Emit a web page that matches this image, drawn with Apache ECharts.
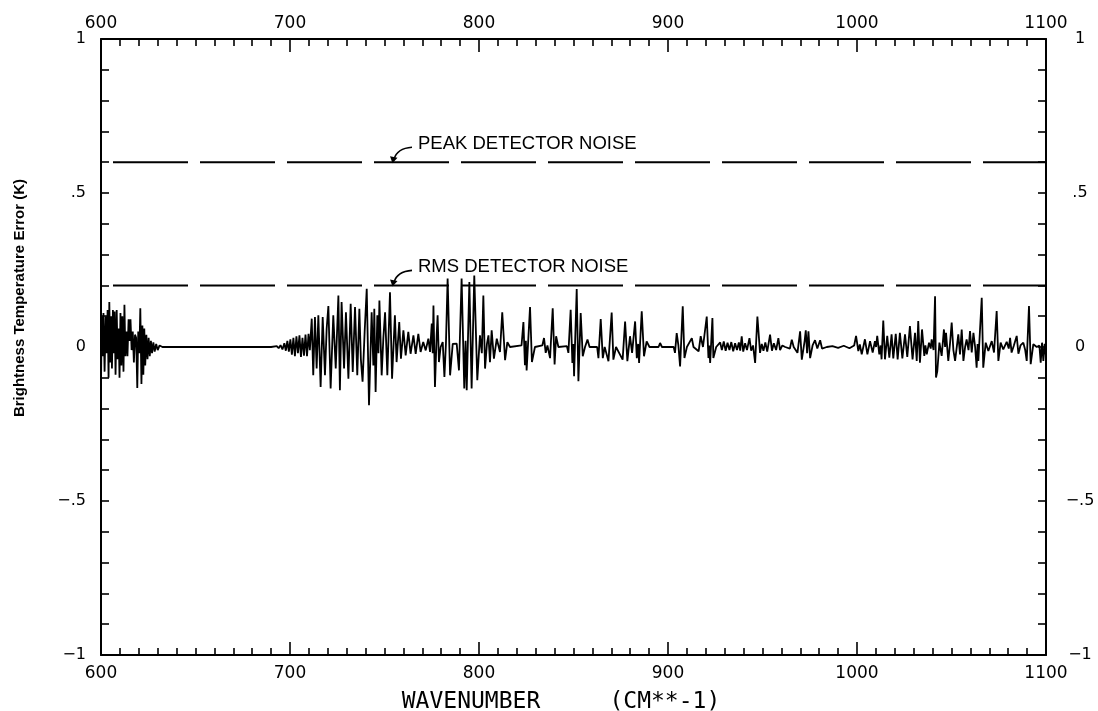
<!DOCTYPE html>
<html>
<head>
<meta charset="utf-8">
<script src="https://cdn.jsdelivr.net/npm/echarts@6/dist/echarts.min.js"></script>
<style>
html,body{margin:0;padding:0;background:#fff;}
#chart{width:1098px;height:711px;}
</style>
</head>
<body>
<div id="chart"></div>
<script>
// ---- data (wavenumber cm^-1, brightness temperature error K) ----
const xTicks = [600, 700, 800, 900, 1000, 1100];
const yTickLabels = {'1': '1', '0.5': '.5', '0': '0', '-0.5': '\u2212.5', '-1': '\u22121'};
const peakNoise = 0.6;
const rmsNoise = 0.2;

const seg600 = [[600.0,-0.12],[600.4,0.10],[600.9,-0.03],[601.3,0.11],[601.9,-0.08],[602.5,0.10],[603.0,-0.02],[603.5,0.12],[604.0,-0.10],[604.4,0.146],[604.9,-0.05],[605.4,0.10],[605.8,-0.07],[606.3,0.12],[606.8,-0.02],[607.2,0.115],[607.7,-0.09],[608.3,0.12],[608.8,-0.04],[609.3,0.06],[609.8,-0.10],[610.3,0.11],[610.8,-0.06],[611.3,0.10],[611.9,-0.08],[612.4,0.137],[612.9,-0.03],[613.5,0.05],[614.0,-0.03],[614.6,0.09],[615.1,0.02],[615.6,0.09],[616.2,-0.01],[616.8,0.05],[617.4,-0.05],[618.0,0.04],[618.6,0.03],[619.2,-0.133],[619.7,0.05],[620.3,-0.02],[620.8,0.126],[621.4,-0.12],[621.9,0.07],[622.4,-0.09],[622.9,0.06],[623.4,-0.06],[624.0,0.04],[624.6,-0.04],[625.2,0.03],[625.8,-0.03],[626.4,0.02],[627.0,-0.02],[627.7,0.015],[628.4,-0.015],[629.2,0.01],[630.0,-0.01],[631.0,0.005],[632.5,0],[650,0],[670,0]];

const seg700 = [[690,0],[693,0.003],[694,-0.004],[695,0.006],[696,-0.008],[697,0.012],[697.8,-0.012],[698.6,0.02],[699.4,-0.015],[700.2,0.025],[701.0,-0.025],[701.8,0.03],[702.6,-0.03],[703.4,0.035],[704.2,-0.02],[705.0,0.038],[705.8,-0.032],[706.6,0.03],[707.4,-0.028],[708.2,0.04],[709.0,-0.03],[709.8,0.043],[710.5,-0.01],[711.5,0.092],[712.3,-0.092],[713.2,0.097],[714.1,-0.07],[715.0,0.103],[716.2,-0.13],[717.3,0.097],[718.5,-0.092],[719.4,0.06],[720.3,0.133],[721.5,-0.135],[722.9,0.103],[724.2,-0.07],[725.6,0.167],[726.4,-0.14],[727.3,0.146],[728.6,-0.07],[729.6,0.113],[730.9,-0.103],[732.1,0.14],[733.2,-0.081],[734.4,0.13],[735.6,-0.092],[736.7,0.124],[737.5,-0.04],[738.4,-0.113],[739.5,0.05],[740.6,0.189],[741.8,-0.189],[743.2,0.113],[744.1,-0.06],[744.6,0.124],[745.3,-0.146],[746.2,0.103],[746.8,-0.02],[747.3,0.151],[748.5,-0.092],[749.4,0.03],[750.3,0.113],[751.5,-0.092],[752.9,0.178],[754.0,-0.103],[755.5,0.103],[756.4,-0.049],[757.8,0.081],[758.7,-0.038],[760.0,0.054],[761.2,-0.027],[762.6,0.049],[763.8,-0.022],[765.3,0.038],[766.5,-0.022],[767.9,0.043],[769.1,-0.016],[770.5,0.016],[771.8,-0.011],[773.2,0.027],[774.1,-0.016],[775.0,0.076],[775.5,-0.02],[775.9,0.135],[776.7,-0.13],[777.6,0.038],[778.1,0.103],[778.8,-0.049],[779.7,0],[780.8,0.016],[781.7,-0.097],[782.5,0.01],[783.4,0.222],[784.7,-0.092],[786.1,0.01],[788.2,0.011],[789.4,-0.076],[790.8,0.222],[792.2,-0.135],[792.9,0.02],[793.5,-0.14],[794.9,0.211],[796.1,-0.135],[797.5,0.232],[799.1,-0.108],[800.5,0.038],[801.5,-0.02],[802.3,0.167],[803.2,-0.07],[804.2,0.01],[805.0,0.038],[805.8,-0.049],[806.7,0.054],[807.9,-0.038],[809.4,0.027],[811.1,-0.016],[812.3,0.113],[813.8,-0.043],[815.0,0.016],[816.4,0],[822.5,0.005],[823.5,0.081],[824.3,-0.059],[824.8,0.02],[825.2,-0.076],[827.0,0.13],[828.0,-0.049],[829.6,0],[833.5,0.005]];

const seg850 = [[834.4,0.029],[835.3,-0.019],[836.2,0.005],[837.6,-0.036],[839.0,0.126],[840.0,-0.057],[840.8,0.035],[842.0,0],[846.5,0.003],[847.3,-0.019],[848.5,0.121],[849.4,-0.052],[849.9,0.01],[850.3,-0.095],[851.7,0.188],[852.6,-0.111],[853.8,0.11],[854.9,-0.03],[856.1,0],[857.4,0.024],[858.5,0],[862.5,0],[863.2,-0.036],[864.4,0.091],[865.5,-0.036],[866.5,0],[868.5,-0.046],[870.2,0.112],[871.1,-0.041],[872.5,0],[876.0,-0.041],[877.3,0.083],[878.5,-0.046],[879.9,0.035],[881.0,-0.019],[882.6,0.083],[883.5,-0.036],[884.2,0.01],[884.7,-0.052],[886.1,0.116],[887.3,-0.03],[888.7,0.018],[890.2,0],[895.0,0],[895.8,0.013],[896.8,0],[903.0,0],[903.7,-0.019],[904.6,0.045],[905.5,0.005],[906.4,-0.063],[907.8,0.132],[908.7,-0.036],[910.0,0],[912.6,0.029],[913.5,0],[916.2,-0.014],[917.3,0.035],[918.5,0],[920.5,0.099],[921.4,-0.036],[921.8,0.005],[922.3,-0.052],[923.5,0.094],[924.0,-0.036],[925.5,0]];

const seg950 = [[927.6,0.015],[928.5,-0.01],[929.5,0.018],[930.5,-0.012],[931.5,0.014],[932.5,-0.01],[933.5,0.016],[934.5,-0.014],[935.5,0.012],[936.5,-0.01],[937.5,0.015],[938.2,-0.012],[939.0,0.035],[939.8,-0.015],[940.8,0.012],[941.8,-0.01],[943.1,0.029],[944.0,-0.012],[945.0,0.005],[946.1,-0.052],[947.3,0.099],[948.7,-0.019],[949.6,0.01],[950.5,-0.012],[951.5,0.015],[952.5,-0.015],[954.0,0.04],[955.0,-0.012],[956.0,0.012],[957.2,-0.01],[958.4,0.029],[959.3,-0.01],[960.5,0.005],[962.0,0],[964.5,-0.005],[965.5,0.024],[966.5,0],[968.5,-0.019],[969.9,0.051],[970.8,-0.041],[971.7,-0.046],[972.3,0.02],[972.9,0.054],[973.6,-0.02],[974.3,0.051],[975.2,-0.036],[976.5,0.005],[977.8,0.022],[979.0,-0.005],[980.5,0.022],[981.5,-0.005],[984.0,0]];

const seg1050 = [[987,0.003],[990,-0.003],[993,0.004],[996,-0.004],[998.5,0.005],[999.5,0.036],[1000.7,-0.013],[1001.5,0.008],[1002.5,-0.024],[1004.2,0.025],[1005.5,-0.024],[1006.9,0.019],[1008.3,-0.018],[1009.5,0.019],[1010.1,0.0],[1010.7,0.036],[1011.8,-0.024],[1012.5,0.005],[1013.0,-0.04],[1013.9,0.086],[1014.8,-0.04],[1016.0,0.036],[1017.1,-0.035],[1018.3,0.041],[1019.2,-0.037],[1020.5,0.043],[1021.5,-0.04],[1022.7,0.046],[1024.0,-0.037],[1025.4,0.041],[1026.6,-0.032],[1028.0,0.068],[1029.4,-0.04],[1030.7,0.046],[1031.6,-0.045],[1032.4,0.084],[1033.3,-0.051],[1034.4,0.057],[1035.6,-0.029],[1036.2,0.005],[1036.9,-0.024],[1038.1,0.014],[1039.0,-0.005],[1039.5,0.025],[1040.5,-0.01],[1041.3,0.165],[1041.8,-0.099],[1042.5,-0.078],[1043.6,0.014],[1044.8,-0.029],[1046.0,0.057],[1046.6,0.0],[1047.1,0.046],[1048.3,-0.045],[1049.2,0.01],[1050.1,0.079],[1051.0,-0.01],[1051.9,-0.045],[1053.6,0.041],[1054.5,-0.024],[1055.4,0.057],[1056.3,-0.045],[1057.2,0.0],[1058.0,0.025],[1059.0,-0.01],[1059.8,0.052],[1060.7,-0.018],[1061.6,0.046],[1062.5,0.0],[1063.3,-0.067],[1063.8,0.01],[1064.2,-0.045],[1066.0,0.16],[1066.8,-0.067],[1068.1,0.014],[1069.5,-0.013],[1070.5,0.005],[1071.3,0.019],[1072.5,-0.018],[1073.9,0.117],[1074.8,-0.045],[1076.0,0.014],[1077.4,-0.008],[1079.2,0.017],[1080.3,-0.005],[1081.0,0.03],[1081.8,-0.018],[1083.0,0.005],[1084.5,0.036],[1085.4,-0.022],[1086.5,0.005],[1088.0,0.014],[1089.0,-0.01],[1089.8,-0.045],[1091.0,0.133],[1091.9,-0.056],[1093.3,0.009],[1095.1,0],[1096.5,0.005],[1097.2,-0.051],[1097.9,0.014],[1098.6,-0.045],[1099.3,0.01],[1100,-0.03]];

const noiseData = [].concat(seg600, seg700, seg850, seg950, seg1050);

const chart = echarts.init(document.getElementById('chart'), null, {renderer: 'canvas'});

const black = '#000';
function xAx(pos) {
  return {
    type: 'value', position: pos, min: xTicks[0], max: xTicks[xTicks.length - 1], interval: 100,
    axisLine: {onZero: false, lineStyle: {color: black, width: 2}},
    axisTick: {inside: true, length: 13, lineStyle: {color: black, width: 1.6}},
    minorTick: {show: true, splitNumber: 10, length: 7, lineStyle: {color: black, width: 1.6}},
    splitLine: {show: false}, minorSplitLine: {show: false},
    axisLabel: {color: black, fontFamily: 'DejaVu Sans', fontSize: 17, margin: pos === 'top' ? 7 : 10,
      showMinLabel: true, showMaxLabel: true, formatter: v => String(v)}
  };
}
function yAx(pos) {
  const left = pos === 'left';
  return {
    type: 'value', position: pos, min: -1, max: 1, interval: 0.5,
    axisLine: {onZero: false, lineStyle: {color: black, width: 2}},
    axisTick: {inside: true, length: 8, lineStyle: {color: black, width: 1.6}},
    minorTick: {show: true, splitNumber: 5, length: 8, lineStyle: {color: black, width: 1.6}},
    splitLine: {show: false}, minorSplitLine: {show: false},
    axisLabel: {color: black, fontFamily: 'DejaVu Sans', fontSize: 16,
      margin: left ? 15 : 34, align: left ? 'right' : 'center',
      formatter: v => yTickLabels[String(Math.round(v * 10) / 10)] || ''}
  };
}

const option = {
  animation: false,
  backgroundColor: '#fff',
  grid: {left: 101, right: 52, top: 39, bottom: 56, containLabel: false},
  xAxis: [xAx('bottom'), xAx('top')],
  yAxis: [yAx('left'), yAx('right')],
  series: [
    {type: 'line', name: 'error', data: noiseData, xAxisIndex: 0, yAxisIndex: 0,
      showSymbol: false, symbol: 'none', clip: true,
      lineStyle: {color: black, width: 1.8}},
    {type: 'line', name: 'peak', data: [[xTicks[0], peakNoise], [xTicks[xTicks.length - 1], peakNoise]],
      showSymbol: false, symbol: 'none',
      lineStyle: {color: black, width: 2, type: [75, 12], dashOffset: 75}},
    {type: 'line', name: 'rms', data: [[xTicks[0], rmsNoise], [xTicks[xTicks.length - 1], rmsNoise]],
      showSymbol: false, symbol: 'none',
      lineStyle: {color: black, width: 2, type: [75, 12], dashOffset: 75}}
  ]
};
chart.setOption(option);

function arrowGroup(tip, label) {
  const [tx, ty] = tip;
  return [
    {type: 'bezierCurve',
      shape: {x1: tx + 19, y1: ty - 15, cpx1: tx + 4, cpy1: ty - 14, x2: tx + 1, y2: ty - 3},
      style: {stroke: black, lineWidth: 1.6, fill: null}},
    {type: 'polygon', shape: {points: [[tx - 0.5, ty + 1], [tx - 3, ty - 6], [tx + 4.5, ty - 4.5]]},
      style: {fill: black}},
    {type: 'text', x: tx + 25, y: ty - 18,
      style: {text: label, fill: black, font: '18.5px "Liberation Sans", Arial, sans-serif',
        textAlign: 'left', textVerticalAlign: 'middle'}}
  ];
}
const arrowX = 754.5;
const pTip = chart.convertToPixel({xAxisIndex: 0, yAxisIndex: 0}, [arrowX, peakNoise]);
const rTip = chart.convertToPixel({xAxisIndex: 0, yAxisIndex: 0}, [arrowX, rmsNoise]);

chart.setOption({
  graphic: [].concat(
    arrowGroup(pTip, 'PEAK DETECTOR NOISE'),
    arrowGroup(rTip, 'RMS DETECTOR NOISE'),
    [
      {type: 'text', x: 20, y: 298, rotation: Math.PI / 2,
        style: {text: 'Brightness Temperature Error (K)', fill: black,
          font: 'bold 15px "Liberation Sans", Arial, sans-serif',
          textAlign: 'center', textVerticalAlign: 'middle'}},
      {type: 'text', x: 561, y: 702,
        style: {text: 'WAVENUMBER     (CM**-1)', fill: black,
          font: '23px "DejaVu Sans Mono", monospace',
          textAlign: 'center', textVerticalAlign: 'middle'}}
    ])
});
</script>
</body>
</html>
